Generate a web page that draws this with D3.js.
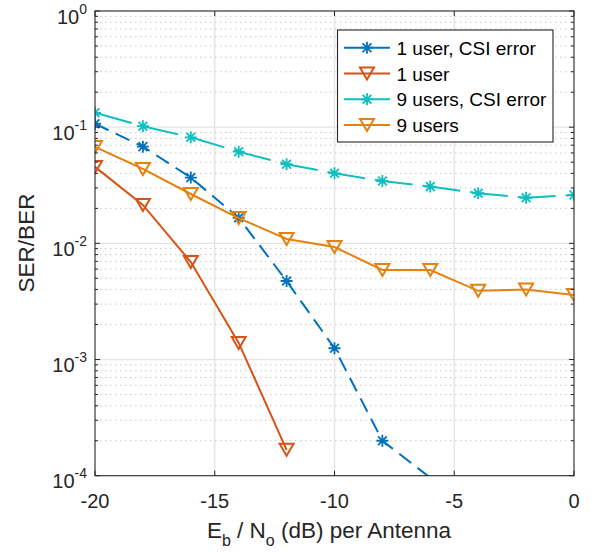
<!DOCTYPE html>
<html>
<head>
<meta charset="utf-8">
<script src="https://cdn.jsdelivr.net/npm/d3@7"></script>
<style>
  html, body { margin: 0; padding: 0; background: #fff; }
  svg { display: block; font-family: "Liberation Sans", Arial, Helvetica, sans-serif; }
</style>
</head>
<body>
<svg id="chart" width="593" height="553"></svg>
<script>
// Eb/No sweep (dB per antenna)
const snrDb = [-20, -18, -16, -14, -12, -10, -8, -6, -4, -2, 0];

// Error rates per configuration (aligned with snrDb from the start)
const oneUserCsi   = [0.107, 0.068, 0.0368, 0.0166, 0.00474, 0.00125, 0.0002, 0.000096];
const oneUser      = [0.0455, 0.0214, 0.0069, 0.00139, 0.000167];
const nineUsersCsi = [0.133, 0.102, 0.0818, 0.0615, 0.048, 0.0401, 0.0344, 0.0308, 0.027, 0.0247, 0.0261];
const nineUsers    = [0.0676, 0.0437, 0.0266, 0.0165, 0.0109, 0.0093, 0.0059, 0.0059, 0.0039, 0.0040, 0.0036];

const seriesNames = ["1 user, CSI error", "1 user", "9 users, CSI error", "9 users"];
const xTicks = [-20, -15, -10, -5, 0];
const yDecades = [-4, -3, -2, -1, 0];

const series = [
  { name: seriesNames[0], values: oneUserCsi,   color: "#0072BD", marker: "star", dash: "15,8" },
  { name: seriesNames[1], values: oneUser,      color: "#D95319", marker: "tri",  dash: null },
  { name: seriesNames[2], values: nineUsersCsi, color: "#0DBFBF", marker: "star", dash: "38,10" },
  { name: seriesNames[3], values: nineUsers,    color: "#E5820F", marker: "tri",  dash: null }
];

const svg = d3.select("#chart");
const plot = { left: 95, right: 574, top: 11, bottom: 475.7 };
const axisColor = "#262626";

const x = d3.scaleLinear().domain([-20, 0]).range([plot.left, plot.right]);
const y = d3.scaleLog().domain([1e-4, 1]).range([plot.bottom, plot.top]);

// Grid: minor (dotted) on y, major (solid) on both axes
const grid = svg.append("g");
const minorVals = [];
for (let k = -4; k < 0; k++) for (let m = 2; m <= 9; m++) minorVals.push(m * Math.pow(10, k));
grid.selectAll("line.minor").data(minorVals).join("line")
  .attr("x1", plot.left).attr("x2", plot.right)
  .attr("y1", d => y(d)).attr("y2", d => y(d))
  .attr("stroke", "#c8c8c8").attr("stroke-width", 1)
  .attr("stroke-dasharray", "1.5,3.5");
grid.selectAll("line.majy").data(yDecades.slice(1, -1)).join("line")
  .attr("x1", plot.left).attr("x2", plot.right)
  .attr("y1", d => y(Math.pow(10, d))).attr("y2", d => y(Math.pow(10, d)))
  .attr("stroke", "#e3e3e3").attr("stroke-width", 1.3);
grid.selectAll("line.majx").data(xTicks.slice(1, -1)).join("line")
  .attr("y1", plot.top).attr("y2", plot.bottom)
  .attr("x1", d => x(d)).attr("x2", d => x(d))
  .attr("stroke", "#e3e3e3").attr("stroke-width", 1.3);

// Data layer, clipped to the axes box
svg.append("clipPath").attr("id", "plotClip").append("rect")
  .attr("x", plot.left).attr("y", plot.top)
  .attr("width", plot.right - plot.left).attr("height", plot.bottom - plot.top);
const dataG = svg.append("g").attr("clip-path", "url(#plotClip)");

const line = d3.line().x((d, i) => x(snrDb[i])).y(d => y(d));

function drawMarker(g, type, color) {
  if (type === "star") {
    const r = 6, q = 4.4;
    const p = `M${-r},0L${r},0M0,${-r}L0,${r}M${-q},${-q}L${q},${q}M${-q},${q}L${q},${-q}`;
    g.append("path").attr("d", p).attr("stroke", color).attr("stroke-width", 1.8).attr("fill", "none");
  } else {
    const w = 7, h = 6;
    g.append("path").attr("d", `M${-w},${-h}L${w},${-h}L0,${h}Z`)
      .attr("stroke", color).attr("stroke-width", 2).attr("fill", "none")
      .attr("stroke-linejoin", "miter");
  }
}

series.forEach(s => {
  dataG.append("path").datum(s.values)
    .attr("d", line)
    .attr("fill", "none")
    .attr("stroke", s.color).attr("stroke-width", 2)
    .attr("stroke-dasharray", s.dash);
  s.values.forEach((v, i) => {
    if (v < 1e-4) return;
    const g = dataG.append("g").attr("transform", `translate(${x(snrDb[i])},${y(v)})`);
    drawMarker(g, s.marker, s.color);
  });
});

// Axes box and ticks
const axes = svg.append("g");
axes.append("rect")
  .attr("x", plot.left).attr("y", plot.top)
  .attr("width", plot.right - plot.left).attr("height", plot.bottom - plot.top)
  .attr("fill", "none").attr("stroke", axisColor).attr("stroke-width", 1.1);

const tickLen = 5, minorLen = 3;
xTicks.forEach(t => {
  const px = x(t);
  axes.append("line").attr("x1", px).attr("x2", px).attr("y1", plot.bottom).attr("y2", plot.bottom - tickLen).attr("stroke", axisColor);
  axes.append("line").attr("x1", px).attr("x2", px).attr("y1", plot.top).attr("y2", plot.top + tickLen).attr("stroke", axisColor);
  axes.append("text").attr("x", px).attr("y", 507.5)
    .attr("text-anchor", "middle").attr("font-size", 20).attr("fill", axisColor)
    .text(String(t));
});
yDecades.forEach(d => {
  const py = y(Math.pow(10, d));
  axes.append("line").attr("x1", plot.left).attr("x2", plot.left + tickLen).attr("y1", py).attr("y2", py).attr("stroke", axisColor);
  axes.append("line").attr("x1", plot.right).attr("x2", plot.right - tickLen).attr("y1", py).attr("y2", py).attr("stroke", axisColor);
  const t = axes.append("text").attr("x", 87).attr("y", py + 12.5)
    .attr("text-anchor", "end").attr("font-size", 20).attr("fill", axisColor);
  t.append("tspan").text("10");
  t.append("tspan").attr("font-size", 14).attr("dy", -10).text(String(d));
});
minorVals.forEach(v => {
  const py = y(v);
  axes.append("line").attr("x1", plot.left).attr("x2", plot.left + minorLen).attr("y1", py).attr("y2", py).attr("stroke", axisColor);
  axes.append("line").attr("x1", plot.right).attr("x2", plot.right - minorLen).attr("y1", py).attr("y2", py).attr("stroke", axisColor);
});

// Axis labels
const xl = svg.append("text").attr("x", 329).attr("y", 538)
  .attr("text-anchor", "middle").attr("font-size", 22.5).attr("fill", axisColor);
xl.append("tspan").text("E");
xl.append("tspan").attr("font-size", 16).attr("dy", 7.5).text("b");
xl.append("tspan").attr("dy", -7.5).text(" / N");
xl.append("tspan").attr("font-size", 16).attr("dy", 7.5).text("o");
xl.append("tspan").attr("dy", -7.5).text(" (dB) per Antenna");

svg.append("text").attr("transform", `translate(33.5,243) rotate(-90)`)
  .attr("text-anchor", "middle").attr("font-size", 22.5).attr("fill", axisColor)
  .text("SER/BER");

// Legend
const leg = svg.append("g");
leg.append("rect").attr("x", 337.5).attr("y", 30).attr("width", 215.5).attr("height", 112)
  .attr("fill", "#fff").attr("stroke", axisColor).attr("stroke-width", 1.1);
series.forEach((s, i) => {
  const ry = 47.7 + i * 25.8;
  leg.append("line").attr("x1", 344).attr("x2", 390).attr("y1", ry).attr("y2", ry)
    .attr("stroke", s.color).attr("stroke-width", 2);
  const g = leg.append("g").attr("transform", `translate(367,${ry})`);
  drawMarker(g, s.marker, s.color);
  leg.append("text").attr("x", 396.5).attr("y", ry + 7)
    .attr("font-size", 19).attr("fill", "#000").text(s.name);
});
</script>
</body>
</html>
